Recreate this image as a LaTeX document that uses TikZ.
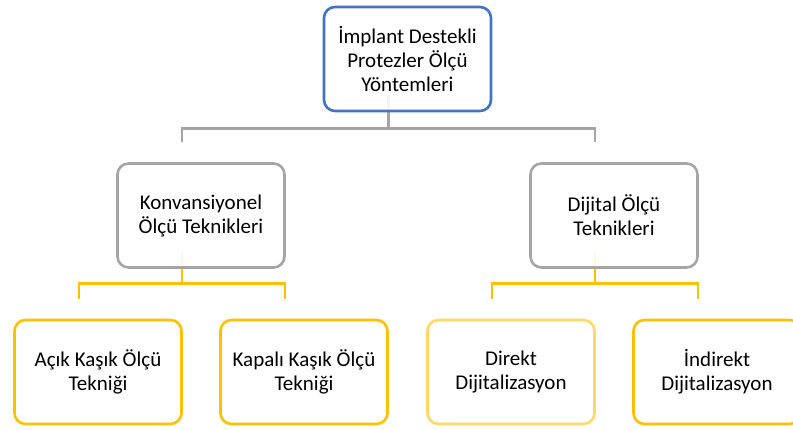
\documentclass[tikz,border=0pt]{standalone}
\usepackage{fontspec}
\setmainfont{Carlito}
\usetikzlibrary{backgrounds}

\definecolor{topblue}{HTML}{4472C4}
\definecolor{midgray}{HTML}{A5A5A5}
\definecolor{gold}{HTML}{FFC000}
\definecolor{lightgold}{HTML}{FFD966}

\tikzset{
  box/.style={draw, line width=2.6pt, rounded corners=11pt, fill=white, fill opacity=0.88,
    text opacity=1, minimum width=167pt, minimum height=104pt, align=center,
    font=\fontsize{21}{24}\selectfont},
  link/.style={line width=2.6pt}
}

\begin{document}
\begin{tikzpicture}[x=1pt,y=1pt]
\useasboundingbox (0,0) rectangle (793,430);
\clip (0,0) rectangle (793,430);
\def\cx{-19}

\node [box, draw=topblue] (top) at (407.5,371) {İmplant Destekli\\Protezler Ölçü\\Yöntemleri};

\node [box, draw=midgray] (konv) at (201,214.5) {Konvansiyonel\\Ölçü Teknikleri};
\node [box, draw=midgray] (dijital) at (614,214.5) {Dijital Ölçü\\Teknikleri};

\node [box, draw=gold] (acik) at (98,58) {Açık Kaşık Ölçü\\Tekniği};
\node [box, draw=gold] (kapali) at (304,58) {Kapalı Kaşık Ölçü\\Tekniği};
\node [box, draw=lightgold] (direkt) at (511,58) {Direkt\\Dijitalizasyon};
\node [box, draw=gold] (indirekt) at (717,58) {İndirekt\\Dijitalizasyon};

\begin{scope}[on background layer]
\draw [link, midgray] ([shift={(\cx,16)}]top.south) -- ++(0,-32) coordinate (g1);
\draw [link, midgray] ([shift={(\cx,20)}]konv.north) |- (g1) -| ([shift={(\cx,20)}]dijital.north);

\draw [link, gold] ([shift={(\cx,16)}]konv.south) -- ++(0,-31) coordinate (y1);
\draw [link, gold] ([shift={(\cx,20)}]acik.north) |- (y1) -| ([shift={(\cx,20)}]kapali.north);

\draw [link, gold] ([shift={(\cx,16)}]dijital.south) -- ++(0,-31) coordinate (y2);
\draw [link, gold] ([shift={(\cx,20)}]direkt.north) |- (y2) -| ([shift={(\cx,20)}]indirekt.north);
\end{scope}

\end{tikzpicture}
\end{document}
